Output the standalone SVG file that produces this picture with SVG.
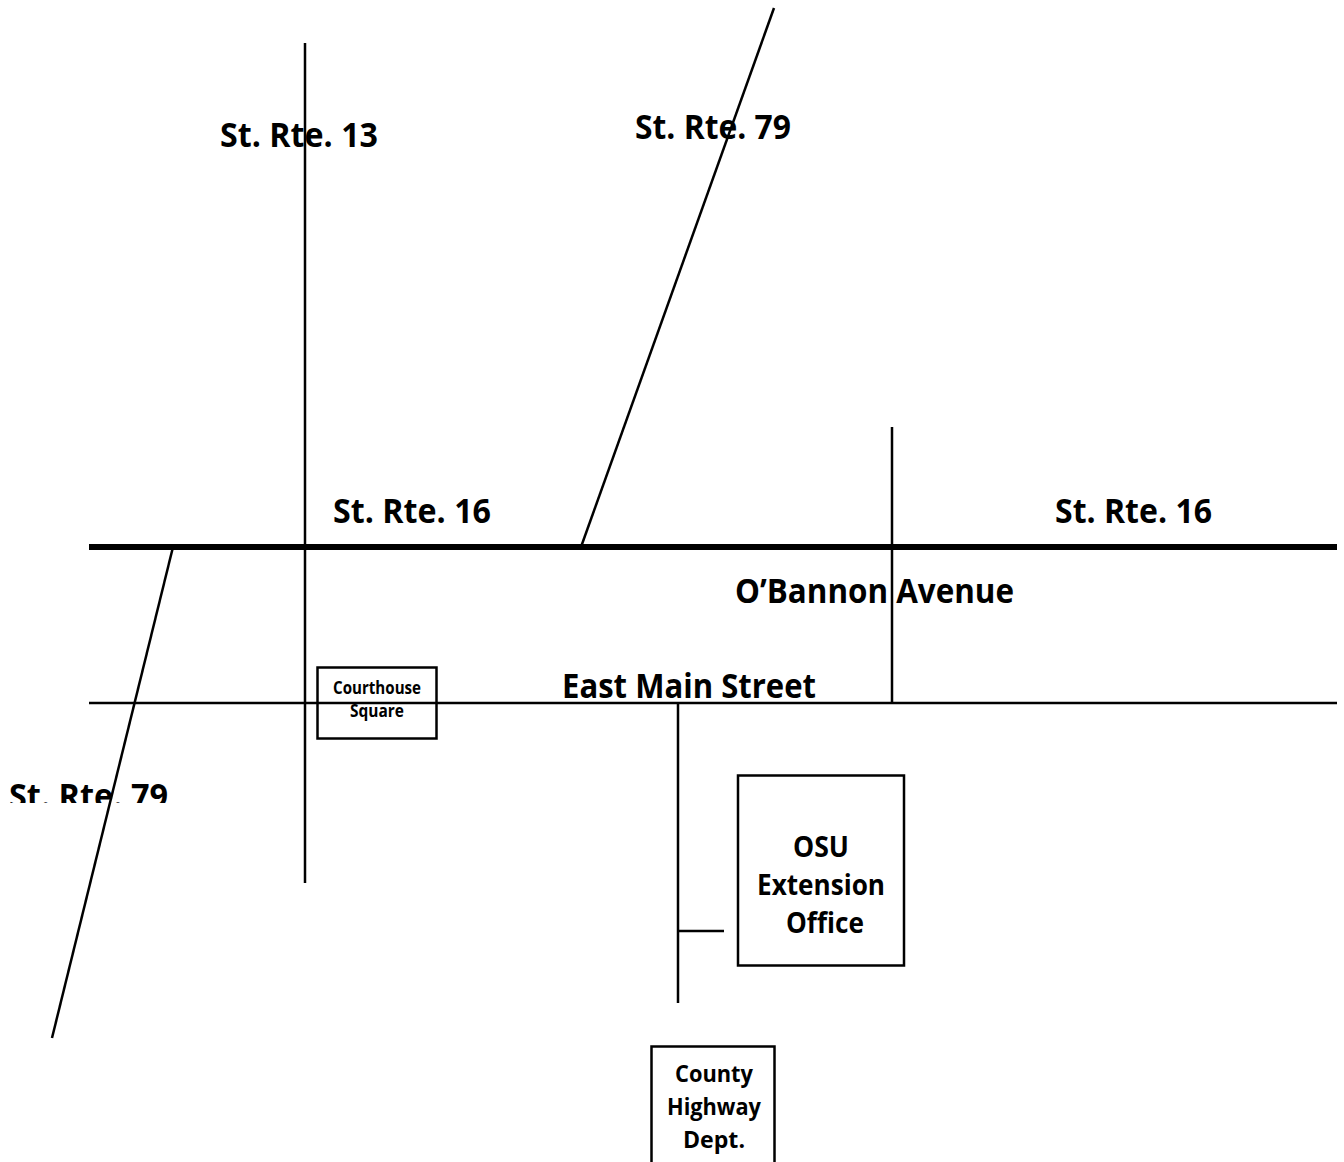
<svg xmlns="http://www.w3.org/2000/svg" width="1344" height="1162" viewBox="0 0 1344 1162">
<style>
.road{stroke:#000;fill:none;stroke-width:2.5}
.main{stroke:#000;fill:none;stroke-width:6}
.box{stroke:#000;fill:#fff;stroke-width:2.5}
text{font-family:"Open Sans","Liberation Sans",sans-serif;font-weight:bold;fill:#000}
.lbl{font-size:34px}
.big{font-size:29px}
.mid{font-size:24px}
.sm{font-size:17px}
</style>
<defs>
<clipPath id="clip79"><rect x="0" y="760" width="300" height="43"/></clipPath>
</defs>
<rect width="1344" height="1162" fill="#fff"/>
<g id="labels">
<text class="lbl" x="220" y="147" textLength="158" lengthAdjust="spacingAndGlyphs">St. Rte. 13</text>
<text class="lbl" x="635" y="139" textLength="156" lengthAdjust="spacingAndGlyphs">St. Rte. 79</text>
<text class="lbl" x="333" y="523" textLength="158" lengthAdjust="spacingAndGlyphs">St. Rte. 16</text>
<text class="lbl" x="1055" y="523" textLength="157" lengthAdjust="spacingAndGlyphs">St. Rte. 16</text>
<text class="lbl" x="735" y="603" textLength="279" lengthAdjust="spacingAndGlyphs">O’Bannon Avenue</text>
<text class="lbl" x="562" y="698" textLength="254" lengthAdjust="spacingAndGlyphs">East Main Street</text>
<text class="lbl" x="9" y="808" textLength="159" lengthAdjust="spacingAndGlyphs" clip-path="url(#clip79)">St. Rte. 79</text>
</g>
<g id="connectors">
<line class="main" x1="89" y1="547" x2="1337" y2="547"/>
<line class="road" x1="89" y1="703" x2="1337" y2="703"/>
<line class="road" x1="305" y1="43" x2="305" y2="883"/>
<line class="road" x1="774" y1="8" x2="581" y2="547"/>
<line class="road" x1="173" y1="547" x2="52" y2="1038"/>
<line class="road" x1="892" y1="427" x2="892" y2="703"/>
<line class="road" x1="678" y1="703" x2="678" y2="1003"/>
<line class="road" x1="678" y1="931" x2="724" y2="931"/>
</g>
<g id="courthouse">
<rect class="box" x="317.5" y="667.5" width="119" height="71" fill="none" style="fill:none"/>
<text class="sm" x="333" y="694" textLength="88" lengthAdjust="spacingAndGlyphs">Courthouse</text>
<text class="sm" x="350" y="717" textLength="54" lengthAdjust="spacingAndGlyphs">Square</text>
</g>
<g id="osu">
<rect class="box" x="738" y="775.5" width="166" height="190"/>
<text class="big" x="793" y="857" textLength="56" lengthAdjust="spacingAndGlyphs">OSU</text>
<text class="big" x="757" y="895" textLength="128" lengthAdjust="spacingAndGlyphs">Extension</text>
<text class="big" x="786" y="933" textLength="78" lengthAdjust="spacingAndGlyphs">Office</text>
</g>
<g id="county">
<rect class="box" x="651.5" y="1046.5" width="123" height="130"/>
<text class="mid" x="675" y="1082" textLength="78" lengthAdjust="spacingAndGlyphs">County</text>
<text class="mid" x="667" y="1115" textLength="94" lengthAdjust="spacingAndGlyphs">Highway</text>
<text class="mid" x="683" y="1148" textLength="62" lengthAdjust="spacingAndGlyphs">Dept.</text>
</g>
</svg>
